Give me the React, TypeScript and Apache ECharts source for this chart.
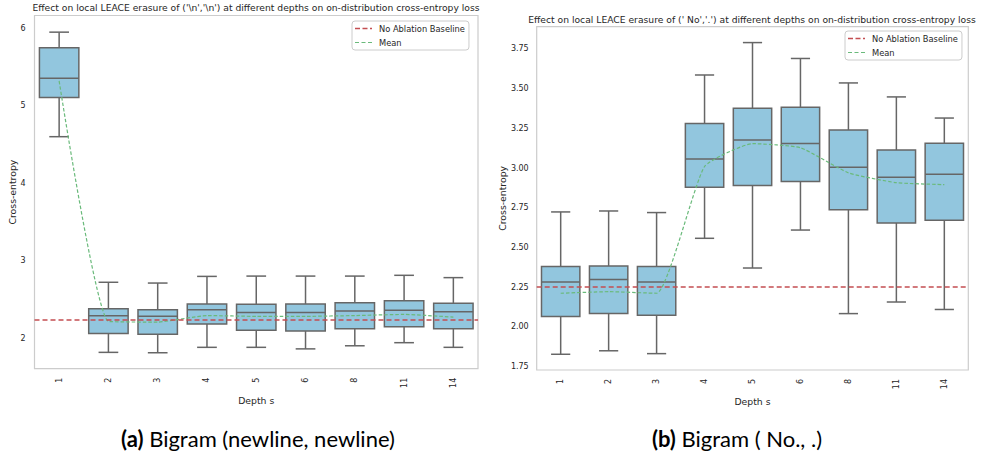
import React, { useEffect, useRef } from "react";
import * as echarts from "echarts";

const categories = ["1", "2", "3", "4", "5", "6", "8", "11", "14"];

// [lower whisker, Q1, median, Q3, upper whisker]
const leftBoxes = [
  [4.6, 5.105, 5.355, 5.75, 5.95],
  [1.815, 2.06, 2.288, 2.378, 2.72],
  [1.81, 2.05, 2.28, 2.365, 2.71],
  [1.88, 2.18, 2.365, 2.44, 2.796],
  [1.88, 2.1, 2.33, 2.435, 2.8],
  [1.86, 2.09, 2.33, 2.44, 2.8],
  [1.9, 2.12, 2.35, 2.455, 2.8],
  [1.94, 2.146, 2.36, 2.48, 2.81],
  [1.88, 2.12, 2.34, 2.45, 2.78],
];
const leftMeans = [5.32, 2.215, 2.206, 2.29, 2.28, 2.28, 2.29, 2.305, 2.27];
const leftBaseline = 2.24;
const leftTicks = [2, 3, 4, 5, 6];

const rightBoxes = [
  [1.828, 2.065, 2.283, 2.38, 2.724],
  [1.85, 2.084, 2.298, 2.384, 2.73],
  [1.832, 2.074, 2.283, 2.38, 2.72],
  [2.558, 2.88, 3.057, 3.28, 3.586],
  [2.371, 2.89, 3.177, 3.376, 3.79],
  [2.61, 2.915, 3.154, 3.383, 3.69],
  [2.084, 2.738, 3.005, 3.24, 3.536],
  [2.157, 2.655, 2.942, 3.114, 3.448],
  [2.11, 2.672, 2.961, 3.156, 3.315],
];
const rightMeans = [2.212, 2.222, 2.212, 3.01, 3.154, 3.128, 2.97, 2.908, 2.896];
const rightBaseline = 2.25;
const rightTicks = [1.75, 2.0, 2.25, 2.5, 2.75, 3.0, 3.25, 3.5, 3.75];

const leftTitle =
  "Effect on local LEACE erasure of ('\\n','\\n') at different depths on on-distribution cross-entropy loss";
const rightTitle =
  "Effect on local LEACE erasure of (' No','.') at different depths on on-distribution cross-entropy loss";
const captionA = "{b|(a)} Bigram (newline, newline)";
const captionB = "{b|(b)} Bigram ( No., .)";

const FONT = "DejaVu Sans";
const TXT = "#262626";
const BOX_FILL = "#92c6de";
const BOX_LINE = "#666666";
const RED = "#c44e52";
const GREEN = "#6aba7b";

const RED_ICON =
  "path://M0,0h0.01v0.01h-0.01z M16.99,10.99h0.01v0.01h-0.01z M0,4.75h5v1.5h-5z M7.5,4.75h5v1.5h-5z M15,4.75h2v1.5h-2z";
const GREEN_ICON =
  "path://M0,0h0.01v0.01h-0.01z M16.99,10.99h0.01v0.01h-0.01z M0,4.9h4v1.2h-4z M6.5,4.9h4v1.2h-4z M13,4.9h4v1.2h-4z";

function boxRender(params: any, api: any) {
  const x = api.value(0);
  const lo = api.coord([x, api.value(1)]);
  const q1 = api.coord([x, api.value(2)]);
  const med = api.coord([x, api.value(3)]);
  const q3 = api.coord([x, api.value(4)]);
  const hi = api.coord([x, api.value(5)]);
  const bw = api.size([1, 0])[0] * 0.8;
  const cx = lo[0];
  const cap = bw / 4;
  const ls = { stroke: BOX_LINE, lineWidth: 1.5, fill: "none" };
  return {
    type: "group",
    children: [
      { type: "line", shape: { x1: cx, y1: q1[1], x2: cx, y2: lo[1] }, style: ls },
      { type: "line", shape: { x1: cx - cap, y1: lo[1], x2: cx + cap, y2: lo[1] }, style: ls },
      { type: "line", shape: { x1: cx, y1: q3[1], x2: cx, y2: hi[1] }, style: ls },
      { type: "line", shape: { x1: cx - cap, y1: hi[1], x2: cx + cap, y2: hi[1] }, style: ls },
      {
        type: "rect",
        shape: { x: cx - bw / 2, y: q3[1], width: bw, height: q1[1] - q3[1] },
        style: { fill: BOX_FILL, stroke: BOX_LINE, lineWidth: 1.5 },
      },
      { type: "line", shape: { x1: cx - bw / 2, y1: med[1], x2: cx + bw / 2, y2: med[1] }, style: ls },
    ],
  };
}

function seriesFor(idx: number, boxes: number[][], means: number[], baseline: number) {
  return [
    {
      type: "custom",
      name: "box" + idx,
      xAxisIndex: idx,
      yAxisIndex: idx,
      renderItem: boxRender,
      encode: { x: 0, y: [1, 2, 3, 4, 5] },
      data: boxes.map((b, i) => [i, ...b]),
      z: 2,
    },
    {
      type: "line",
      name: "No Ablation Baseline",
      xAxisIndex: idx,
      yAxisIndex: idx,
      data: [],
      symbol: "none",
      color: RED,
      lineStyle: { color: RED, width: 1.5, type: [5, 3] },
      markLine: {
        silent: true,
        symbol: "none",
        label: { show: false },
        lineStyle: { color: RED, width: 1.5, type: [5, 3] },
        data: [{ yAxis: baseline }],
      },
      z: 3,
    },
    {
      type: "line",
      name: "Mean",
      xAxisIndex: idx,
      yAxisIndex: idx,
      data: means,
      symbol: "none",
      showSymbol: false,
      smooth: 0.15,
      color: GREEN,
      lineStyle: { color: GREEN, width: 1.2, type: [3.5, 2] },
      z: 4,
    },
  ];
}

function legendAt(left: number, top: number) {
  return {
    orient: "vertical",
    left,
    top,
    data: [
      { name: "No Ablation Baseline", icon: RED_ICON },
      { name: "Mean", icon: GREEN_ICON },
    ],
    backgroundColor: "#ffffff",
    borderColor: "#cccccc",
    borderWidth: 1,
    borderRadius: 3,
    padding: [2, 4, 2, 3],
    itemGap: 3,
    itemWidth: 17,
    itemHeight: 11,
    textStyle: { fontSize: 8.3, color: TXT, fontFamily: FONT, padding: [0, 0, 0, 2] },
  };
}

function caption(x: number, text: string) {
  return {
    type: "text",
    x,
    y: 438,
    style: {
      text,
      rich: { b: { fontWeight: "bold", fontSize: 22, fontFamily: "Lato", fill: "#000" } },
      fontSize: 22,
      fontFamily: "Lato",
      fill: "#000",
      align: "center",
      verticalAlign: "middle",
    },
  };
}

export default function App() {
  const ref = useRef<HTMLDivElement>(null);
  useEffect(() => {
    if (!ref.current) return;
    const chart = echarts.init(ref.current, undefined, { renderer: "svg" });
    const xAxisFor = (idx: number) => ({
      type: "category",
      gridIndex: idx,
      data: categories,
      axisLine: { show: false },
      axisTick: { show: false },
      splitLine: { show: false },
      axisLabel: { rotate: 90, margin: 9, fontSize: 8, color: TXT, fontFamily: FONT },
      name: "Depth s",
      nameLocation: "middle",
      nameGap: 21,
      nameTextStyle: { fontSize: 9.3, color: TXT, fontFamily: FONT },
    });
    const option: any = {
      animation: false,
      backgroundColor: "#ffffff",
      grid: [
        { left: 34.5, top: 15.5, width: 443.5, height: 353.2, show: true, borderColor: "#cccccc", borderWidth: 1.2, backgroundColor: "transparent" },
        { left: 536.7, top: 26.7, width: 431.6, height: 343.3, show: true, borderColor: "#cccccc", borderWidth: 1.2, backgroundColor: "transparent" },
      ],
      xAxis: [xAxisFor(0), xAxisFor(1)],
      yAxis: [
        {
          type: "value",
          gridIndex: 0,
          min: 1.604,
          max: 6.165,
          axisLine: { show: false },
          axisTick: { show: false },
          splitLine: { show: false },
          axisLabel: { customValues: leftTicks, margin: 9, fontSize: 8, color: TXT, fontFamily: FONT, formatter: (v: number) => String(v) },
          name: "Cross-entropy",
          nameLocation: "middle",
          nameGap: 17,
          nameTextStyle: { fontSize: 9.3, color: TXT, fontFamily: FONT },
        },
        {
          type: "value",
          gridIndex: 1,
          min: 1.729,
          max: 3.89,
          axisLine: { show: false },
          axisTick: { show: false },
          splitLine: { show: false },
          axisLabel: { customValues: rightTicks, margin: 8, fontSize: 8, color: TXT, fontFamily: FONT, formatter: (v: number) => v.toFixed(2) },
          name: "Cross-entropy",
          nameLocation: "middle",
          nameGap: 29,
          nameTextStyle: { fontSize: 9.3, color: TXT, fontFamily: FONT },
        },
      ],
      legend: [legendAt(352, 21), legendAt(845, 31)],
      series: [
        ...seriesFor(0, leftBoxes, leftMeans, leftBaseline),
        ...seriesFor(1, rightBoxes, rightMeans, rightBaseline),
      ],
      graphic: [
        { type: "text", x: 256, y: 7.5, style: { text: leftTitle, fontSize: 9.2, fontFamily: FONT, fill: TXT, align: "center", verticalAlign: "middle" } },
        { type: "text", x: 752, y: 19, style: { text: rightTitle, fontSize: 9.2, fontFamily: FONT, fill: TXT, align: "center", verticalAlign: "middle" } },
        caption(258, captionA),
        caption(737, captionB),
      ],
    };
    chart.setOption(option);
    return () => chart.dispose();
  }, []);
  return (
    <div
      ref={ref}
      style={{ position: "absolute", left: 0, top: 0, width: 984, height: 455 }}
    />
  );
}
